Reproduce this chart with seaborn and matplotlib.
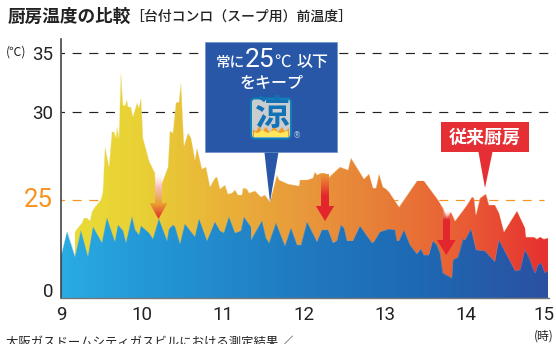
import numpy as np
import matplotlib
matplotlib.use("Agg")
import matplotlib.pyplot as plt
import seaborn as sns
from matplotlib.colors import LinearSegmentedColormap
from matplotlib.patches import Polygon, FancyBboxPatch, Rectangle
from matplotlib.transforms import ScaledTranslation

# ---------- data ----------
conventional_hours = [9.177,9.193,9.259,9.284,9.325,9.358,9.383,9.42,9.49,9.514,9.547,9.597,9.63,9.654,9.68,9.695,9.712,9.737,9.761,9.786,9.811,9.827,9.86,9.885,9.942,9.959,9.992,10.008,10.041,10.09,
    10.156,10.173,10.2,10.247,10.325,10.345,10.378,10.419,10.461,10.477,10.518,10.572,10.609,10.654,10.683,10.736,10.79,10.839,10.901,10.93,10.963,11.02,11.061,
    11.107,11.148,11.189,11.23,11.251,11.292,11.325,11.395,11.465,11.519,11.58,11.663,11.695,11.807,11.942,11.95,12.033,12.107,12.132,12.165,12.206,12.26,12.301,
    12.445,12.548,12.577,12.741,12.807,12.856,12.89,12.93,12.972,13.012,13.053,13.177,13.399,13.481,13.658,13.712,13.761,13.81,13.868,13.946,14.017,14.074,14.095,14.124,14.177,14.247,14.28,14.354,14.412,14.47,14.63,14.733,14.741,14.836,14.877,14.918,14.959,15.013]
conventional_temps = [16.9,17.5,19.05,20.3,20.3,19.7,22.0,23.3,25.0,25.47,28.03,26.89,28.88,28.88,28.5,29.16,28.5,33.28,30.59,30.51,31.02,30.45,30.4,29.73,30.79,30.31,31.16,28.5,28.07,27.23,
    26.52,25.38,25.34,25.95,26.89,28.92,28.79,30.79,30.85,32.43,28.07,28.79,28.5,27.27,27.94,26.74,26.86,25.76,26.23,26.29,25.61,25.85,25.34,
    25.38,25.57,25.28,25.28,25.66,25.61,25.38,25.53,25.19,25.28,24.57,26.42,26.14,25.89,25.8,26.14,26.14,26.23,26.61,26.42,26.52,26.52,26.23,
    26.86,26.7,27.37,26.19,26.48,25.66,25.66,26.48,25.72,25.64,25.47,23.14,26.1,26.1,25.0,22.88,20.33,22.02,19.64,22.02,23.72,25.19,25.1,21.17,25.1,25.34,23.72,23.72,21.6,16.91,22.27,17.78,15.48,15.48,14.97,15.64,14.97,15.23]

ryo_hours = [9.0,9.008,9.078,9.177,9.243,9.333,9.399,9.502,9.564,9.663,9.708,9.77,9.802,9.877,9.918,9.967,9.992,10.09,
    10.131,10.205,10.312,10.337,10.387,10.411,10.469,10.526,10.65,10.707,10.806,10.897,10.963,11.012,11.07,
    11.148,11.218,11.259,11.346,11.35,11.477,11.531,11.572,11.654,11.765,11.84,11.918,11.967,12.041,
    12.165,12.218,12.301,12.354,12.404,12.453,12.494,12.535,12.601,12.692,12.836,12.865,12.939,13.054,
    13.123,13.144,13.177,13.234,13.308,13.391,13.44,13.481,13.539,13.588,13.638,13.679,13.712,13.823,13.843,13.905,13.967,13.992,
    14.066,14.124,14.231,14.354,14.404,14.609,14.671,14.725,14.774,14.836,14.856,14.89,14.93,14.972,15.013]
ryo_temps = [11.0,11.4,16.9,10.54,17.18,10.54,18.2,14.1,20.3,14.37,18.62,17.18,13.95,20.75,17.35,16.07,18.37,16.5,
    14.97,20.07,14.62,17.5,18.62,18.03,13.78,18.88,15.64,20.07,14.62,19.46,17.18,16.66,20.75,
    16.5,17.18,20.58,18.03,14.8,19.73,15.23,13.95,19.05,13.27,17.78,13.52,13.52,19.46,
    14.37,17.35,17.35,14.1,14.62,18.62,17.78,14.62,14.62,18.37,14.1,14.37,16.91,17.52,
    17.35,14.62,14.62,17.35,13.52,11.22,12.42,10.89,10.89,14.62,13.52,11.4,6.3,5.03,9.69,10.38,14.97,14.8,
    17.52,12.24,12.07,9.26,14.8,6.96,7.14,12.24,10.38,6.96,6.3,8.42,8.85,6.45,6.96]

y_ticks = [0, 25, 30, 35]
x_ticks = [9, 10, 11, 12, 13, 14, 15]

# ---------- style ----------
sns.set_theme(style="white")
JP = ["Noto Sans CJK JP", "DejaVu Sans"]
NARROW = ["Liberation Sans Narrow", "Roboto"]
plt.rcParams["font.family"] = JP
plt.rcParams["lines.scale_dashes"] = False

W, H = 556, 344
fig = plt.figure(figsize=(W / 100, H / 100), dpi=100, facecolor="white")
ax = fig.add_axes([61 / W, (H - 298) / H, (W - 61) / W, 259 / H])
ax.set_facecolor("none")

# the printed temperature axis is not linear
knot_t = [0, 25, 30, 35, 36.19]
knot_p = [0, 98, 186, 245, 259]
ax.set_yscale("function", functions=(lambda v: np.interp(v, knot_t, knot_p),
                                     lambda v: np.interp(v, knot_p, knot_t)))
ax.set_ylim(0, 36.19)
ax.set_xlim(9, 9 + (W - 61) / 81)

warm = LinearSegmentedColormap.from_list("warm", [
    (0, "#E8DE36"), (0.17, "#E8CF35"), (0.33, "#E9B238"), (0.5, "#E8983A"),
    (0.67, "#E77B37"), (0.83, "#E95C35"), (1, "#E6302F")])
cool = LinearSegmentedColormap.from_list("cool", [
    (0, "#29ABE2"), (0.17, "#2398D6"), (0.5, "#2079BF"),
    (0.72, "#1D6AB3"), (1, "#2B50A2")])

edges = np.linspace(9, 15.02, 241)
mids = (edges[:-1] + edges[1:]) / 2


def gradient_area(hours, temps, cmap, z):
    mesh = ax.pcolormesh(edges, [0, 36.19], mids[None, :], cmap=cmap, vmin=9, vmax=15,
                         shading="flat", zorder=z)
    h = [hours[0]] + list(hours) + [hours[-1]]
    t = [0] + list(temps) + [0]
    mesh.set_clip_path(Polygon(np.column_stack([h, t]), closed=True, transform=ax.transData))


gradient_area(conventional_hours, conventional_temps, warm, 1.5)
sns.lineplot(x=conventional_hours, y=conventional_temps, ax=ax, color="#F6E6B0", lw=0.35,
             alpha=0.55, sort=False, estimator=None, zorder=1.6)
gradient_area(ryo_hours, ryo_temps, cool, 1.7)
sns.lineplot(x=ryo_hours, y=ryo_temps, ax=ax, color="#6FA9D8", lw=0.35,
             alpha=0.55, sort=False, estimator=None, zorder=1.8)

dash = (4.0, (6.5, 5.5))
for v in (30, 35):
    ax.axhline(v, color="#222222", lw=0.85, ls=dash, zorder=1)
ax.plot([9, 14.96], [25, 25], color="#F7931E", lw=0.85, ls=dash, zorder=1)

for s in ("top", "right"):
    ax.spines[s].set_visible(False)
ax.spines["left"].set_color("#444444")
ax.spines["left"].set_linewidth(1.2)
ax.spines["bottom"].set_color("#777777")
ax.spines["bottom"].set_linewidth(1.0)
ax.spines["bottom"].set_bounds(9, 15.02)

ax.set_xticks(x_ticks)
ax.set_xticklabels([str(v) for v in x_ticks], family=NARROW, fontsize=13.5, color="#222222")
ax.tick_params(axis="x", length=0, pad=5.5)
xl = ax.get_xticklabels()
xl[-1].set_transform(xl[-1].get_transform() + ScaledTranslation(-2.5 / 72, 0, fig.dpi_scale_trans))
ax.set_yticks(y_ticks)
ax.set_yticklabels([str(v) for v in y_ticks], family=NARROW, fontsize=13.5, color="#222222")
ax.tick_params(axis="y", length=0, pad=5.5)
ax.minorticks_off()
labels = ax.get_yticklabels()
labels[1].set_color("#F7931E")
labels[1].set_fontsize(18.5)
labels[1].set_transform(labels[1].get_transform() + ScaledTranslation(0, 2 / 72, fig.dpi_scale_trans))
labels[0].set_transform(labels[0].get_transform() + ScaledTranslation(0, 6 / 72, fig.dpi_scale_trans))

# ---------- overlay in reference pixels ----------
ov = fig.add_axes([0, 0, 1, 1], zorder=5)
ov.set_facecolor("none")
ov.axis("off")


def grad_poly(points, stops, top, bottom):
    cm = LinearSegmentedColormap.from_list("g", stops)
    xs = [p[0] for p in points]
    im = ov.imshow(np.linspace(0, 1, 128)[:, None], cmap=cm, aspect="auto",
                   extent=(min(xs), max(xs), bottom, top), zorder=6, interpolation="bilinear")
    im.set_clip_path(Polygon(points, closed=True, transform=ov.transData))


def arrow(xc, top, base, tip, half_shaft, half_head, shaft_stops, head_stops):
    grad_poly([(xc - half_shaft, top), (xc + half_shaft, top), (xc + half_shaft, base + 1), (xc - half_shaft, base + 1)],
              shaft_stops, top, base + 1)
    grad_poly([(xc - half_head, base), (xc + half_head, base), (xc, tip)], head_stops, base, tip)


arrow(158.5, 170, 203, 219, 3.5, 9,
      [(1, 1, 1, 0), (0.97, 0.75, 0.72, 1), (0.91, 0.62, 0.2, 1)],
      ["#E9A533", "#E3262E"])
arrow(325, 174, 206, 221, 3.8, 9.2,
      ["#E9963A", "#E6602F", "#E3262E", "#E3262E"],
      ["#E3262E", "#E3262E"])
arrow(446.3, 209, 240, 255, 3.4, 9.3,
      [(1, 1, 1, 0), (0.89, 0.15, 0.18, 1), (0.89, 0.15, 0.18, 1), (0.89, 0.15, 0.18, 1)],
      ["#E3262E", "#E3262E"])

BLUE = "#2857A8"
RED = "#E62F35"
ov.add_patch(Polygon([(264.3, 151), (278.7, 151), (270, 202)], fc=BLUE, ec="none", zorder=7))
ov.add_patch(Rectangle((205, 42.3), 132.3, 109.4, fc=BLUE, ec="#6E93CC", lw=0.5, zorder=7))
ov.add_patch(Polygon([(478.3, 151), (492.7, 151), (485, 188)], fc=RED, ec="none", zorder=7))
ov.add_patch(Rectangle((441, 122.3), 88.3, 29.4, fc=RED, ec="none", zorder=7))

white = dict(color="white", ha="center", va="center", zorder=8)
ov.text(485, 137, "従来厨房", fontsize=13, fontweight="bold", **white)
ov.text(230, 62.5, "常に", fontsize=10.5, fontweight="medium", **white)
ov.text(259.5, 60, "25", fontsize=19, family=NARROW, **white)
ov.text(283, 62.5, "℃", fontsize=12, **white)
ov.text(313, 62.5, "以下", fontsize=11.5, fontweight="medium", **white)
ov.text(272, 83.5, "をキープ", fontsize=11.5, fontweight="medium", **white)

# 涼 badge
ov.add_patch(FancyBboxPatch((251, 98.5), 40, 40, boxstyle="round,pad=0,rounding_size=4",
                            fc="#C9CDD0", ec="#0E7FB8", lw=1.4, zorder=8))
flames_o = [(253, 137), (253, 129), (256, 132), (259, 126), (262, 132), (266, 127), (270, 133), (274, 126),
            (278, 132), (282, 127), (285, 132), (289, 128), (289, 137)]
flames_y = [(254, 137), (254, 132), (258, 133), (262, 130), (268, 133), (274, 130), (280, 133), (288, 131), (288, 137)]
ov.add_patch(Polygon(flames_o, fc="#F39A1F", ec="none", zorder=8.1))
ov.add_patch(Polygon(flames_y, fc="#FFE65A", ec="none", zorder=8.2))
ov.text(271, 115, "涼", fontsize=25, fontweight="bold", color="#1272B5", ha="center", va="center", zorder=8.3)
ov.text(296.5, 136, "®", fontsize=6, color="#A9C4E6", ha="center", va="center", zorder=8, family=["DejaVu Sans"])

dark = dict(color="#222222", va="center", zorder=8)
ov.text(8, 17, "厨房温度の比較", fontsize=12.7, fontweight="bold", ha="left", **dark)
ov.text(130, 17, "［台付コンロ（スープ用）前温度］", fontsize=10, fontweight="medium", ha="left", **dark)
ov.text(16, 52, "(℃)", fontsize=8.8, ha="center", **dark)
ov.text(544, 336, "(時)", fontsize=8.5, ha="center", **dark)
ov.text(6, 342.5, "大阪ガスドームシティガスビルにおける測定結果 ／", fontsize=8.9, ha="left", **dark)

ov.set_xlim(0, W)
ov.set_ylim(H, 0)

fig.savefig("out.png", dpi=100, facecolor="white")
